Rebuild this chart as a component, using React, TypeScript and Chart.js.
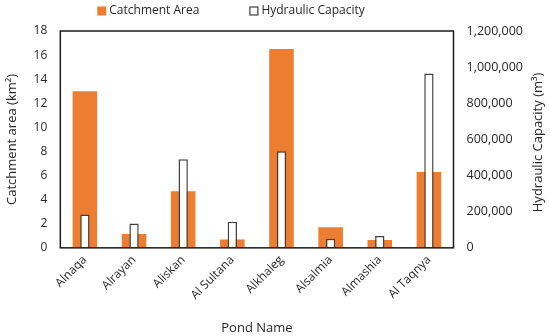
import React, { useEffect, useRef } from "react";
import { Chart, registerables } from "chart.js";

Chart.register(...registerables);

const ponds = ["Alnaqa", "Alrayan", "Aliskan", "Al Sultana", "Alkhaleg", "Alsalmia", "Almashia", "Al Taqnya"];
const catchmentArea = [13.0, 1.15, 4.7, 0.7, 16.5, 1.7, 0.65, 6.3];
const hydraulicCapacity = [185000, 135000, 490000, 145000, 535000, 50000, 65000, 965000];
const seriesNames = ["Catchment Area", "Hydraulic Capacity"];
const rightTitle = "Hydraulic Capacity (m³)";

const ORANGE = "#ED7D31";
const TEXT = "#262626";
const FONT = "'Open Sans', sans-serif";

const frame = {
  id: "frame",
  afterDatasetsDraw(chart: any) {
    const { ctx, chartArea: a } = chart;
    ctx.save();
    ctx.strokeStyle = "#1a1a1a";
    ctx.lineWidth = 1.5;
    ctx.strokeRect(a.left, a.top, a.right - a.left, a.bottom - a.top);
    ctx.restore();
  },
};

const rightAxisTitle = {
  id: "rightAxisTitle",
  afterDraw(chart: any) {
    const { ctx, chartArea: a } = chart;
    ctx.save();
    ctx.font = `13px ${FONT}`;
    ctx.fillStyle = TEXT;
    ctx.textAlign = "center";
    ctx.textBaseline = "middle";
    ctx.translate(chart.width - 12, (a.top + a.bottom) / 2 + 3);
    ctx.rotate(-Math.PI / 2);
    ctx.fillText(rightTitle, 0, 0);
    ctx.restore();
  },
};

const customLegend = {
  id: "customLegend",
  afterDraw(chart: any) {
    const { ctx } = chart;
    const box = 9;
    const gap = 50;
    const textGap = 3;
    const y = 11;
    ctx.save();
    ctx.font = `12px ${FONT}`;
    const items = chart.data.datasets.map((d: any) => ({
      label: d.label,
      fill: d.backgroundColor,
      stroke: d.borderColor,
      w: box + textGap + ctx.measureText(d.label).width,
    }));
    const total = items.reduce((s: number, it: any) => s + it.w, 0) + gap * (items.length - 1);
    let x = 231 - total / 2;
    items.forEach((it: any) => {
      ctx.fillStyle = it.fill;
      ctx.fillRect(x, y - box / 2, box, box);
      if (it.stroke) {
        ctx.strokeStyle = it.stroke;
        ctx.lineWidth = 1.2;
        ctx.strokeRect(x + 0.5, y - box / 2 + 0.5, box - 1, box - 1);
      }
      ctx.fillStyle = TEXT;
      ctx.textBaseline = "middle";
      ctx.textAlign = "left";
      ctx.fillText(it.label, x + box + textGap, y);
      x += it.w + gap;
    });
    ctx.restore();
  },
};

export default function App() {
  const ref = useRef<HTMLCanvasElement>(null);
  useEffect(() => {
    Chart.defaults.font.family = FONT;
    const chart = new Chart(ref.current!, {
      type: "bar",
      data: {
        labels: ponds,
        datasets: [
          {
            label: seriesNames[0],
            data: catchmentArea,
            backgroundColor: ORANGE,
            yAxisID: "y",
            grouped: false,
            barPercentage: 1,
            categoryPercentage: 0.5,
            order: 2,
          } as any,
          {
            label: seriesNames[1],
            data: hydraulicCapacity,
            backgroundColor: "#ffffff",
            borderColor: "#404040",
            borderWidth: 1.5,
            yAxisID: "y1",
            grouped: false,
            barPercentage: 1,
            categoryPercentage: 0.19,
            order: 1,
          } as any,
        ],
      },
      options: {
        responsive: true,
        maintainAspectRatio: false,
        animation: false,
        layout: { padding: { top: 31, left: 2, right: 14, bottom: 0 } },
        plugins: {
          legend: { display: false },
          tooltip: { enabled: false },
        },
        scales: {
          x: {
            grid: { display: false, drawTicks: false },
            border: { display: false },
            ticks: { color: TEXT, font: { size: 12 }, minRotation: 45, maxRotation: 45, padding: 5 },
            title: { display: true, text: "Pond Name", color: TEXT, font: { size: 13 }, padding: { top: 13, bottom: 0 } },
          },
          y: {
            position: "left",
            min: 0,
            max: 18,
            grid: { display: false, drawTicks: false },
            border: { display: false },
            ticks: { stepSize: 2, color: TEXT, font: { size: 12 }, padding: 13 },
            title: { display: true, text: "Catchment area (km²)", color: TEXT, font: { size: 13 }, padding: { top: 2, bottom: 1 } },
          },
          y1: {
            position: "right",
            min: 0,
            max: 1200000,
            grid: { display: false, drawTicks: false },
            border: { display: false },
            ticks: {
              stepSize: 200000,
              color: TEXT,
              font: { size: 12.5 },
              padding: 13,
              callback: (v: any) => Number(v).toLocaleString("en-US"),
            },
          },
        },
      },
      plugins: [frame, customLegend, rightAxisTitle],
    });
    return () => chart.destroy();
  }, []);
  return (
    <div style={{ position: "absolute", left: 0, top: 0, width: 550, height: 336 }}>
      <canvas ref={ref} />
    </div>
  );
}
